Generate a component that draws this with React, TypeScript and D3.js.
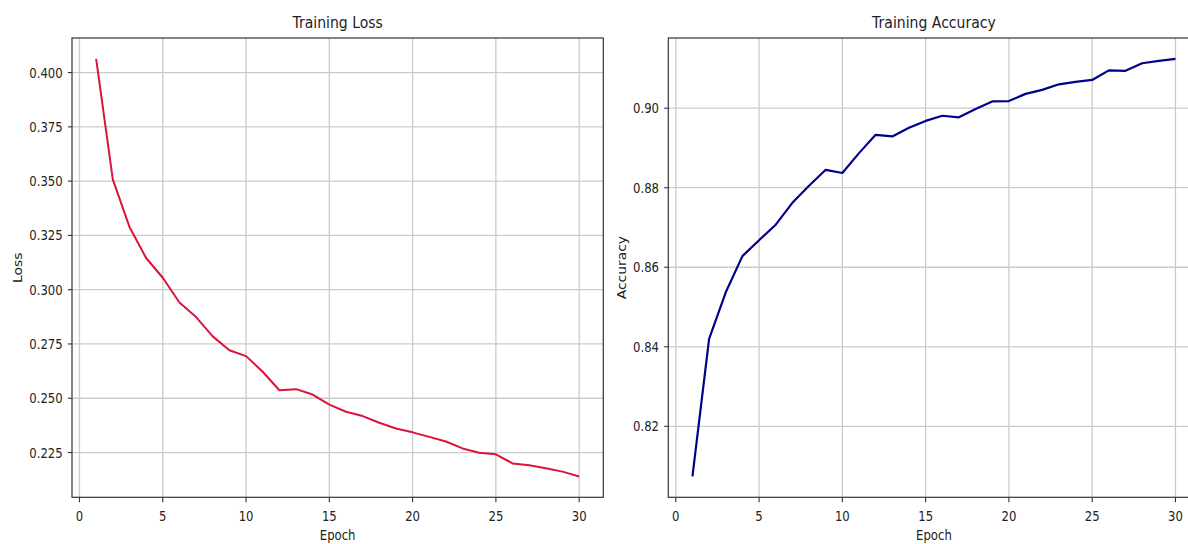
import React from "react";
import * as d3 from "d3";

// values
const epochs = [1, 2, 3, 4, 5, 6, 7, 8, 9, 10, 11, 12, 13, 14, 15, 16, 17, 18, 19, 20, 21, 22, 23, 24, 25, 26, 27, 28, 29, 30];
const lossValues = [
  0.4063, 0.3508, 0.3289, 0.3146, 0.3055, 0.2941, 0.2874, 0.2785, 0.2721, 0.2694,
  0.2622, 0.2537, 0.2542, 0.2517, 0.2471, 0.2438, 0.2418, 0.2387, 0.2361, 0.2343,
  0.2322, 0.2301, 0.2269, 0.2249, 0.2242, 0.2200, 0.2191, 0.2178, 0.2162, 0.2140,
];
const accuracyValues = [
  0.8074, 0.8420, 0.8537, 0.8628, 0.8668, 0.8707, 0.8762, 0.8805, 0.8845, 0.8837,
  0.8887, 0.8933, 0.8929, 0.8951, 0.8968, 0.8981, 0.8977, 0.8998, 0.9017, 0.9018,
  0.9036, 0.9046, 0.9060, 0.9066, 0.9071, 0.9095, 0.9094, 0.9113, 0.9119, 0.9124,
];
const epochTicks = [0, 5, 10, 15, 20, 25, 30];
const lossTicks = [0.225, 0.25, 0.275, 0.3, 0.325, 0.35, 0.375, 0.4];
const accuracyTicks = [0.82, 0.84, 0.86, 0.88, 0.9];

const W = 1188;
const H = 544;
const SQ = 0.84; // the figure is squeezed horizontally
const FONT = "DejaVu Sans, sans-serif";

type PanelProps = {
  left: number;
  right: number;
  title: string;
  yLabel: string;
  yLabelX: number;
  values: number[];
  yTicks: number[];
  yFormat: string;
  color: string;
  lineWidth: number;
};

const top = 38;
const bottom = 497.3;

function Panel({ left, right, title, yLabel, yLabelX, values, yTicks, yFormat, color, lineWidth }: PanelProps) {
  const xMin = d3.min(epochs)!;
  const xMax = d3.max(epochs)!;
  const xPad = (xMax - xMin) * 0.05;
  const x = d3.scaleLinear().domain([xMin - xPad, xMax + xPad]).range([left, right]);
  const yMin = d3.min(values)!;
  const yMax = d3.max(values)!;
  const yPad = (yMax - yMin) * 0.05;
  const y = d3.scaleLinear().domain([yMin - yPad, yMax + yPad]).range([bottom, top]);
  const fmt = d3.format(yFormat);
  const line = d3
    .line<number>()
    .x((_, i) => x(epochs[i]))
    .y((d) => y(d));

  const clipId = "clip-" + title.replace(/\s/g, "");
  return (
    <g>
      <defs>
        <clipPath id={clipId}>
          <rect x={left} y={top} width={right - left} height={bottom - top} />
        </clipPath>
      </defs>
      {/* grid */}
      <g stroke="#cbcbcb" strokeWidth={1.3}>
        {epochTicks.map((t) => (
          <line key={"gx" + t} x1={x(t)} x2={x(t)} y1={top} y2={bottom} />
        ))}
        {yTicks.map((t) => (
          <line key={"gy" + t} x1={left} x2={right} y1={y(t)} y2={y(t)} />
        ))}
      </g>
      <path
        d={line(values) || ""}
        fill="none"
        stroke={color}
        strokeWidth={lineWidth}
        strokeLinejoin="round"
        clipPath={`url(#${clipId})`}
      />
      {/* spines */}
      <rect x={left} y={top} width={right - left} height={bottom - top} fill="none" stroke="#333" strokeWidth={1.2} />
      {/* x ticks */}
      {epochTicks.map((t) => (
        <g key={"xt" + t}>
          <line x1={x(t)} x2={x(t)} y1={bottom} y2={bottom + 4.9} stroke="#333" strokeWidth={1.1} />
          <text
            transform={`translate(${x(t)},${521}) scale(${SQ},1)`}
            textAnchor="middle"
            fontSize={13.9}
            fontFamily={FONT}
            fill="#222"
          >
            {t}
          </text>
        </g>
      ))}
      {/* y ticks */}
      {yTicks.map((t) => (
        <g key={"yt" + t}>
          <line x1={left - 4.1} x2={left} y1={y(t)} y2={y(t)} stroke="#333" strokeWidth={1.1} />
          <text
            transform={`translate(${left - 9.3},${y(t) + 5}) scale(${SQ},1)`}
            textAnchor="end"
            fontSize={13.9}
            fontFamily={FONT}
            fill="#222"
          >
            {fmt(t)}
          </text>
        </g>
      ))}
      <text
        transform={`translate(${(left + right) / 2},${28}) scale(${SQ},1)`}
        textAnchor="middle"
        fontSize={16.7}
        fontFamily={FONT}
        fill="#222"
      >
        {title}
      </text>
      <text
        transform={`translate(${(left + right) / 2},${539.5}) scale(${SQ},1)`}
        textAnchor="middle"
        fontSize={13.9}
        fontFamily={FONT}
        fill="#222"
      >
        Epoch
      </text>
      <text
        transform={`translate(${yLabelX},${(top + bottom) / 2}) scale(${SQ},1) rotate(-90)`}
        textAnchor="middle"
        fontSize={13.9}
        fontFamily={FONT}
        fill="#222"
      >
        {yLabel}
      </text>
    </g>
  );
}

export default function App() {
  return (
    <svg
      width={W}
      height={H}
      style={{ position: "absolute", left: 0, top: 0, background: "#fff", overflow: "hidden" }}
    >
      <rect width={W} height={H} fill="#fff" />
      <Panel
        left={72}
        right={603.3}
        title="Training Loss"
        yLabel="Loss"
        yLabelX={22}
        values={lossValues}
        yTicks={lossTicks}
        yFormat=".3f"
        color="#dc143c"
        lineWidth={2}
      />
      <Panel
        left={668.3}
        right={1199.6}
        title="Training Accuracy"
        yLabel="Accuracy"
        yLabelX={626}
        values={accuracyValues}
        yTicks={accuracyTicks}
        yFormat=".2f"
        color="#00008b"
        lineWidth={2.2}
      />
    </svg>
  );
}
